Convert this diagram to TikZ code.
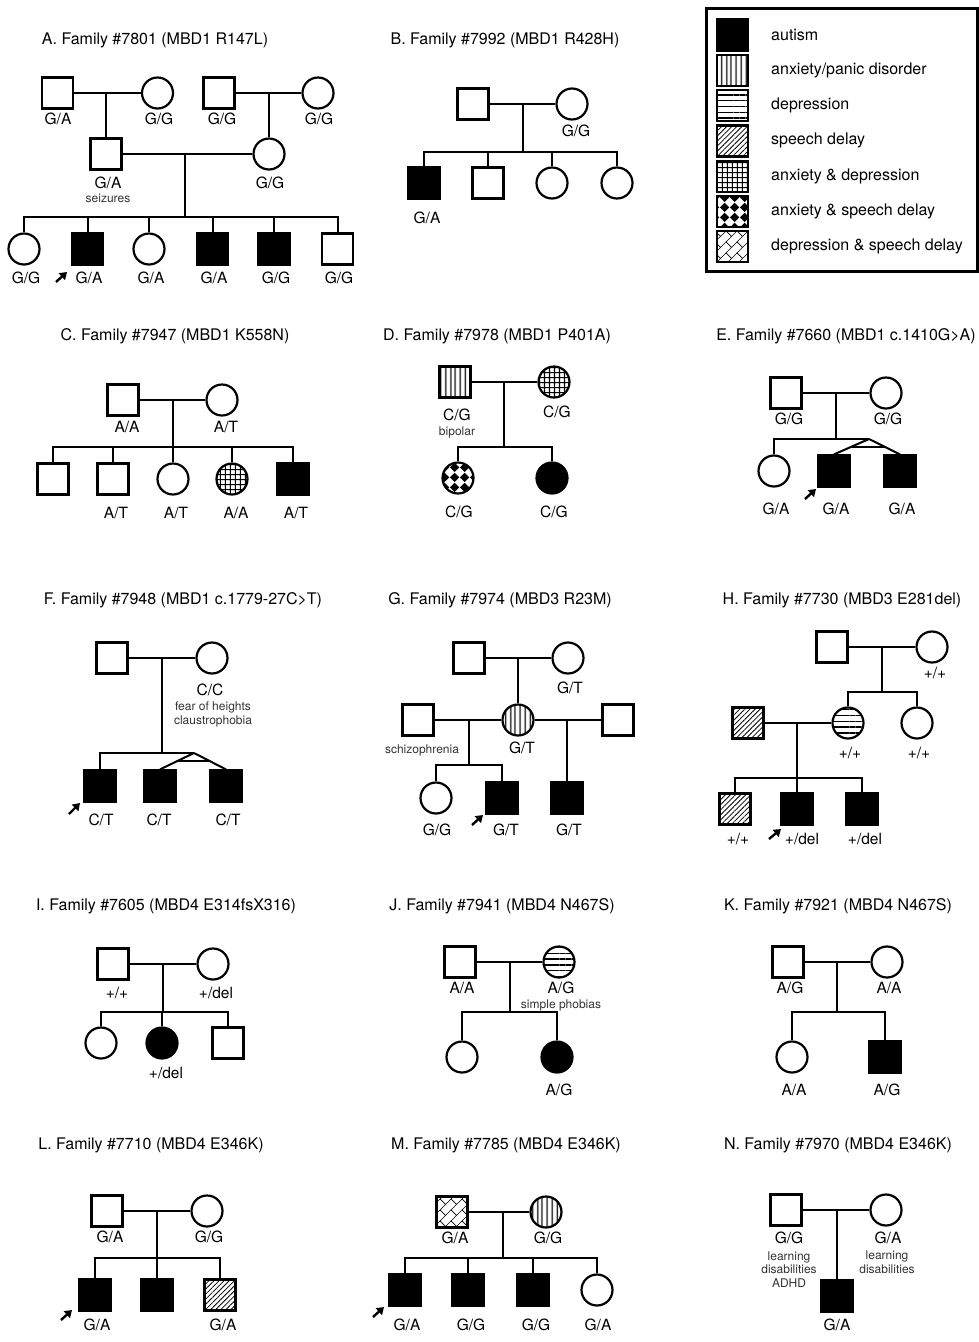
\documentclass[tikz,border=0pt]{standalone}
\usepackage{fontspec}
\setmainfont{TeX Gyre Heros}
\usetikzlibrary{patterns,patterns.meta,arrows.meta,calc}

\pgfdeclarepatternformonly{diamonds}{\pgfpointorigin}{\pgfqpoint{10pt}{10pt}}{\pgfqpoint{10pt}{10pt}}{
  \pgfpathmoveto{\pgfqpoint{5pt}{0pt}}
  \pgfpathlineto{\pgfqpoint{10pt}{5pt}}
  \pgfpathlineto{\pgfqpoint{5pt}{10pt}}
  \pgfpathlineto{\pgfqpoint{0pt}{5pt}}
  \pgfpathclose
  \pgfusepath{fill}}
\pgfdeclarepatternformonly{diagbricks}{\pgfqpoint{-0.5pt}{-0.5pt}}{\pgfqpoint{11.5pt}{11.5pt}}{\pgfqpoint{11pt}{11pt}}{
  \pgfsetlinewidth{0.7pt}
  \pgfpathmoveto{\pgfqpoint{-0.5pt}{-0.5pt}}\pgfpathlineto{\pgfqpoint{11.5pt}{11.5pt}}
  \pgfpathmoveto{\pgfqpoint{5.5pt}{5.5pt}}\pgfpathlineto{\pgfqpoint{0pt}{11pt}}
  \pgfusepath{stroke}}

\tikzset{
  ind/.style={draw, line width=2.2pt, minimum size=31pt, inner sep=0pt},
  male/.style={ind, rectangle},
  female/.style={ind, circle},
  aut/.style={fill=black},
  anx/.style={pattern={Lines[angle=90,distance=5.4pt,line width=1.4pt]}},
  dep/.style={pattern={Lines[angle=0,distance=5.8pt,line width=1.4pt]}},
  spd/.style={pattern={Lines[angle=45,distance=3.6pt,line width=0.8pt]}},
  anxdep/.style={pattern={Hatch[angle=0,distance=5.4pt,line width=1.2pt]}},
  anxspd/.style={pattern=diamonds},
  depspd/.style={pattern=diagbricks},
  link/.style={line width=2pt},
  proband/.style={line width=2.4pt, -{Triangle[length=7pt,width=9pt]}},
  ttl/.style={font=\fontsize{16}{18}\selectfont, inner sep=0pt},
  gt/.style={font=\fontsize{15.5}{17}\selectfont, inner sep=0pt},
  note/.style={font=\fontsize{12}{13.5}\selectfont, text=black!80, inner sep=0pt, align=center},
  lgt/.style={font=\fontsize{16}{18}\selectfont, inner sep=0pt, anchor=west}
}

\begin{document}
\begin{tikzpicture}[x=1pt,y=-1pt]
  \useasboundingbox (0,0) rectangle (979,1342);

  \draw[line width=3pt] (706,8) rectangle (977,271);
  \node[male,aut] (Lg1) at (732.5,35) {};
  \node[male,anx] (Lg2) at (732.5,70.3) {};
  \node[male,dep] (Lg3) at (732.5,105.6) {};
  \node[male,spd] (Lg4) at (732.5,140.9) {};
  \node[male,anxdep] (Lg5) at (732.5,176.2) {};
  \node[male,anxspd] (Lg6) at (732.5,211.5) {};
  \node[male,depspd] (Lg7) at (732.5,246.8) {};
  \node[lgt] (Lt1) at (771,35) {autism};
  \node[lgt] (Lt2) at (771,70.3) {anxiety/panic disorder};
  \node[lgt] (Lt3) at (771,105.6) {depression};
  \node[lgt] (Lt4) at (771,140.9) {speech delay};
  \node[lgt] (Lt5) at (771,176.2) {anxiety \& depression};
  \node[lgt] (Lt6) at (771,211.5) {anxiety \& speech delay};
  \node[lgt] (Lt7) at (771,246.8) {depression \& speech delay};

  \node[ttl] (At) at (155,40) {A. Family \#7801 (MBD1 R147L)};
  \node[male] (A1) at (57.5,93) {};
  \node[female] (A2) at (157.5,93) {};
  \node[male] (A3) at (219,93) {};
  \node[female] (A4) at (318,93) {};
  \node[male] (A5) at (106,154) {};
  \node[female] (A6) at (269,154) {};
  \node[female] (A7) at (24,249) {};
  \node[male,aut] (A8) at (87.5,249) {};
  \node[female] (A9) at (149,249) {};
  \node[male,aut] (A10) at (212.5,249) {};
  \node[male,aut] (A11) at (274,249) {};
  \node[male] (A12) at (337.5,249) {};
  \coordinate (Am1) at (106,93);
  \coordinate (Am2) at (269,93);
  \coordinate (Am3) at (185,154);
  \coordinate (As) at (185,217);
  \draw[link] (A1) -- (A2);
  \draw[link] (A3) -- (A4);
  \draw[link] (A5) -- (A6);
  \draw[link] (Am1) -- (A5);
  \draw[link] (Am2) -- (A6);
  \draw[link] (Am3) -- (As);
  \foreach \c in {A7,A8,A9,A10,A11,A12} \draw[link] (\c) |- (As);
  \node[gt] (Ag1) at (58,119) {G/A};
  \node[gt] (Ag2) at (159,119) {G/G};
  \node[gt] (Ag3) at (222,119) {G/G};
  \node[gt] (Ag4) at (319,119) {G/G};
  \node[gt] (Ag5) at (108,183) {G/A};
  \node[note] (An5) at (108,198) {seizures};
  \node[gt] (Ag6) at (270,183) {G/G};
  \node[gt] (Ag7) at (26,278) {G/G};
  \node[gt] (Ag8) at (89,278) {G/A};
  \node[gt] (Ag9) at (151,278) {G/A};
  \node[gt] (Ag10) at (214,278) {G/A};
  \node[gt] (Ag11) at (276,278) {G/G};
  \node[gt] (Ag12) at (339,278) {G/G};
  \coordinate (Apt) at (56,282);
  \coordinate (Aph) at (67,272);
  \draw[proband] (Apt) -- (Aph);

  \node[ttl] (Bt) at (505,40) {B. Family \#7992 (MBD1 R428H)};
  \node[male] (B1) at (473,104) {};
  \node[female] (B2) at (572,104) {};
  \node[male,aut] (B3) at (424,183) {};
  \node[male] (B4) at (488,183) {};
  \node[female] (B5) at (552,183) {};
  \node[female] (B6) at (617,183) {};
  \coordinate (Bm) at (523,104);
  \coordinate (Bs) at (523,152);
  \draw[link] (B1) -- (B2);
  \draw[link] (Bm) -- (Bs);
  \foreach \c in {B3,B4,B5,B6} \draw[link] (\c) |- (Bs);
  \node[gt] (Bg2) at (576,131) {G/G};
  \node[gt] (Bg3) at (427,218) {G/A};

  \node[ttl] (Ct) at (175,336) {C. Family \#7947 (MBD1 K558N)};
  \node[male] (C1) at (123,400) {};
  \node[female] (C2) at (222,400) {};
  \node[male] (C3) at (53,479) {};
  \node[male] (C4) at (113,479) {};
  \node[female] (C5) at (173,479) {};
  \node[female,anxdep] (C6) at (232,479) {};
  \node[male,aut] (C7) at (293,479) {};
  \coordinate (Cm) at (173,400);
  \coordinate (Cs) at (173,447);
  \draw[link] (C1) -- (C2);
  \draw[link] (Cm) -- (Cs);
  \foreach \c in {C3,C4,C5,C6,C7} \draw[link] (\c) |- (Cs);
  \node[gt] (Cg1) at (127,427) {A/A};
  \node[gt] (Cg2) at (226,427) {A/T};
  \node[gt] (Cg4) at (116,513) {A/T};
  \node[gt] (Cg5) at (176,513) {A/T};
  \node[gt] (Cg6) at (236,513) {A/A};
  \node[gt] (Cg7) at (296,513) {A/T};

  \node[ttl] (Dt) at (497,336) {D. Family \#7978 (MBD1 P401A)};
  \node[male,anx] (D1) at (455,382) {};
  \node[female,anxdep] (D2) at (554,382) {};
  \node[female,anxspd] (D3) at (458,478) {};
  \node[female,aut] (D4) at (552,478) {};
  \coordinate (Dm) at (504,382);
  \coordinate (Ds) at (504,447);
  \draw[link] (D1) -- (D2);
  \draw[link] (Dm) -- (Ds);
  \foreach \c in {D3,D4} \draw[link] (\c) |- (Ds);
  \node[gt] (Dg1) at (457,415) {C/G};
  \node[note] (Dn1) at (457,432) {bipolar};
  \node[gt] (Dg2) at (557,412) {C/G};
  \node[gt] (Dg3) at (459,512) {C/G};
  \node[gt] (Dg4) at (554,512) {C/G};

  \node[ttl] (Et) at (846,336) {E. Family \#7660 (MBD1 c.1410G>A)};
  \node[male] (E1) at (786,393) {};
  \node[female] (E2) at (886,393) {};
  \node[female] (E3) at (774,471) {};
  \node[male,aut] (E4) at (834,471) {};
  \node[male,aut] (E5) at (900,471) {};
  \coordinate (Em) at (836,393);
  \coordinate (Es) at (836,439);
  \coordinate (Etw) at (869,439);
  \draw[link] (E1) -- (E2);
  \draw[link] (Em) -- (Es);
  \draw[link] (E3) |- (Etw);
  \draw[link] (Etw) -- (E4.north);
  \draw[link] (Etw) -- (E5.north);
  \draw[link] ($(Etw)!0.5!(E4.north)$) -- ($(Etw)!0.5!(E5.north)$);
  \node[gt] (Eg1) at (789,419) {G/G};
  \node[gt] (Eg2) at (888,419) {G/G};
  \node[gt] (Eg3) at (776,509) {G/A};
  \node[gt] (Eg4) at (836,509) {G/A};
  \node[gt] (Eg5) at (902,509) {G/A};
  \coordinate (Ept) at (805,499);
  \coordinate (Eph) at (816,489);
  \draw[proband] (Ept) -- (Eph);

  \node[ttl] (Ft) at (183,600) {F. Family \#7948 (MBD1 c.1779-27C>T)};
  \node[male] (F1) at (112,658) {};
  \node[female] (F2) at (212,658) {};
  \node[male,aut] (F3) at (100,786) {};
  \node[male,aut] (F4) at (160,786) {};
  \node[male,aut] (F5) at (226,786) {};
  \coordinate (Fm) at (162,658);
  \coordinate (Fs) at (162,753);
  \coordinate (Ftw) at (194,753);
  \draw[link] (F1) -- (F2);
  \draw[link] (Fm) -- (Fs);
  \draw[link] (F3) |- (Ftw);
  \draw[link] (Ftw) -- (F4.north);
  \draw[link] (Ftw) -- (F5.north);
  \draw[link] ($(Ftw)!0.5!(F4.north)$) -- ($(Ftw)!0.5!(F5.north)$);
  \node[gt] (Fg2) at (210,690) {C/C};
  \node[note] (Fn2) at (213,714.5) {fear of heights\\claustrophobia};
  \node[gt] (Fg3) at (101,820) {C/T};
  \node[gt] (Fg4) at (159,820) {C/T};
  \node[gt] (Fg5) at (228,820) {C/T};
  \coordinate (Fpt) at (69,814);
  \coordinate (Fph) at (80,803);
  \draw[proband] (Fpt) -- (Fph);

  \node[ttl] (Gt) at (500,600) {G. Family \#7974 (MBD3 R23M)};
  \node[male] (G1) at (469,658) {};
  \node[female] (G2) at (568,658) {};
  \node[male] (G3) at (418,720) {};
  \node[female,anx] (G4) at (518,720) {};
  \node[male] (G5) at (618,720) {};
  \node[female] (G6) at (436,798) {};
  \node[male,aut] (G7) at (502,798) {};
  \node[male,aut] (G8) at (567,798) {};
  \coordinate (Gm1) at (518,658);
  \coordinate (Gm2) at (469,720);
  \coordinate (Gs) at (469,765);
  \coordinate (Gm3) at (567,720);
  \draw[link] (G1) -- (G2);
  \draw[link] (Gm1) -- (G4);
  \draw[link] (G3) -- (G4);
  \draw[link] (G4) -- (G5);
  \draw[link] (Gm2) -- (Gs);
  \foreach \c in {G6,G7} \draw[link] (\c) |- (Gs);
  \draw[link] (Gm3) -- (G8);
  \node[gt] (Gg2) at (570,688) {G/T};
  \node[note] (Gn3) at (422,750) {schizophrenia};
  \node[gt] (Gg4) at (522,748) {G/T};
  \node[gt] (Gg6) at (437,830) {G/G};
  \node[gt] (Gg7) at (506,830) {G/T};
  \node[gt] (Gg8) at (569,830) {G/T};
  \coordinate (Gpt) at (472,825);
  \coordinate (Gph) at (483,815);
  \draw[proband] (Gpt) -- (Gph);

  \node[ttl] (Ht) at (842,600) {H. Family \#7730 (MBD3 E281del)};
  \node[male] (H1) at (832,647) {};
  \node[female] (H2) at (932,647) {};
  \node[male,spd] (H3) at (748,723) {};
  \node[female,dep] (H4) at (848,723) {};
  \node[female] (H5) at (917,723) {};
  \node[male,spd] (H6) at (735,809) {};
  \node[male,aut] (H7) at (797,809) {};
  \node[male,aut] (H8) at (862,809) {};
  \coordinate (Hm1) at (882,647);
  \coordinate (Hs1) at (882,692);
  \coordinate (Hm2) at (797,723);
  \coordinate (Hs2) at (797,778);
  \draw[link] (H1) -- (H2);
  \draw[link] (Hm1) -- (Hs1);
  \foreach \c in {H4,H5} \draw[link] (\c) |- (Hs1);
  \draw[link] (H3) -- (H4);
  \draw[link] (Hm2) -- (Hs2);
  \foreach \c in {H6,H7,H8} \draw[link] (\c) |- (Hs2);
  \node[gt] (Hg2) at (935,673) {+/+};
  \node[gt] (Hg4) at (850,753) {+/+};
  \node[gt] (Hg5) at (919,753) {+/+};
  \node[gt] (Hg6) at (738,839) {+/+};
  \node[gt] (Hg7) at (802,839) {+/del};
  \node[gt] (Hg8) at (865,839) {+/del};
  \coordinate (Hpt) at (769,839);
  \coordinate (Hph) at (781,829);
  \draw[proband] (Hpt) -- (Hph);

  \node[ttl] (It) at (166,906) {I. Family \#7605 (MBD4 E314fsX316)};
  \node[male] (I1) at (113,964) {};
  \node[female] (I2) at (213,964) {};
  \node[female] (I3) at (101,1043) {};
  \node[female,aut] (I4) at (162,1043) {};
  \node[male] (I5) at (228,1043) {};
  \coordinate (Im) at (163,964);
  \coordinate (Is) at (163,1012);
  \draw[link] (I1) -- (I2);
  \draw[link] (Im) -- (Is);
  \foreach \c in {I3,I4,I5} \draw[link] (\c) |- (Is);
  \node[gt] (Ig1) at (117,993) {+/+};
  \node[gt] (Ig2) at (216,993) {+/del};
  \node[gt] (Ig4) at (166,1073) {+/del};

  \node[ttl] (Jt) at (502,906) {J. Family \#7941 (MBD4 N467S)};
  \node[male] (J1) at (460,962) {};
  \node[female,dep] (J2) at (559,962) {};
  \node[female] (J3) at (462,1057) {};
  \node[female,aut] (J4) at (557,1057) {};
  \coordinate (Jm) at (510,962);
  \coordinate (Js) at (510,1012);
  \draw[link] (J1) -- (J2);
  \draw[link] (Jm) -- (Js);
  \foreach \c in {J3,J4} \draw[link] (\c) |- (Js);
  \node[gt] (Jg1) at (462,988) {A/A};
  \node[gt] (Jg2) at (561,988) {A/G};
  \node[note] (Jn2) at (561,1005) {simple phobias};
  \node[gt] (Jg4) at (559,1090) {A/G};

  \node[ttl] (Kt) at (838,906) {K. Family \#7921 (MBD4 N467S)};
  \node[male] (K1) at (788,962) {};
  \node[female] (K2) at (887,962) {};
  \node[female] (K3) at (792,1057) {};
  \node[male,aut] (K4) at (885,1057) {};
  \coordinate (Km) at (837,962);
  \coordinate (Ks) at (837,1012);
  \draw[link] (K1) -- (K2);
  \draw[link] (Km) -- (Ks);
  \foreach \c in {K3,K4} \draw[link] (\c) |- (Ks);
  \node[gt] (Kg1) at (790,988) {A/G};
  \node[gt] (Kg2) at (889,988) {A/A};
  \node[gt] (Kg3) at (794,1090) {A/A};
  \node[gt] (Kg4) at (887,1090) {A/G};

  \node[ttl] (Lt) at (151,1145) {L. Family \#7710 (MBD4 E346K)};
  \node[male] (L1) at (107,1211) {};
  \node[female] (L2) at (207,1211) {};
  \node[male,aut] (L3) at (95,1295) {};
  \node[male,aut] (L4) at (157,1295) {};
  \node[male,spd] (L5) at (220,1295) {};
  \coordinate (Lm) at (157,1211);
  \coordinate (Ls) at (157,1258);
  \draw[link] (L1) -- (L2);
  \draw[link] (Lm) -- (Ls);
  \foreach \c in {L3,L4,L5} \draw[link] (\c) |- (Ls);
  \node[gt] (Lg1t) at (110,1237) {G/A};
  \node[gt] (Lg2t) at (209,1237) {G/G};
  \node[gt] (Lg3t) at (97,1325) {G/A};
  \node[gt] (Lg5t) at (223,1325) {G/A};
  \coordinate (Lpt) at (61,1320);
  \coordinate (Lph) at (72,1310);
  \draw[proband] (Lpt) -- (Lph);

  \node[ttl] (Mt) at (506,1145) {M. Family \#7785 (MBD4 E346K)};
  \node[male,depspd] (M1) at (452,1212) {};
  \node[female,anx] (M2) at (546,1212) {};
  \node[male,aut] (M3) at (405,1290) {};
  \node[male,aut] (M4) at (468,1290) {};
  \node[male,aut] (M5) at (533,1290) {};
  \node[female] (M6) at (597,1290) {};
  \coordinate (Mm) at (503,1212);
  \coordinate (Ms) at (503,1258);
  \draw[link] (M1) -- (M2);
  \draw[link] (Mm) -- (Ms);
  \foreach \c in {M3,M4,M5,M6} \draw[link] (\c) |- (Ms);
  \node[gt] (Mg1) at (455,1238) {G/A};
  \node[gt] (Mg2) at (548,1238) {G/G};
  \node[gt] (Mg3) at (407,1325) {G/A};
  \node[gt] (Mg4) at (471,1325) {G/G};
  \node[gt] (Mg5) at (536,1325) {G/G};
  \node[gt] (Mg6) at (598,1325) {G/A};
  \coordinate (Mpt) at (373,1317);
  \coordinate (Mph) at (384,1307);
  \draw[proband] (Mpt) -- (Mph);

  \node[ttl] (Nt) at (838,1145) {N. Family \#7970 (MBD4 E346K)};
  \node[male] (N1) at (786,1210) {};
  \node[female] (N2) at (886,1210) {};
  \node[male,aut] (N3) at (837,1296) {};
  \coordinate (Nm) at (837,1210);
  \draw[link] (N1) -- (N2);
  \draw[link] (Nm) -- (N3);
  \node[gt] (Ng1) at (789,1238) {G/G};
  \node[note] (Nn1) at (789,1269.5) {learning\\disabilities\\ADHD};
  \node[gt] (Ng2) at (888,1238) {G/A};
  \node[note] (Nn2) at (887,1262) {learning\\disabilities};
  \node[gt] (Ng3) at (837,1325) {G/A};
\end{tikzpicture}
\end{document}
